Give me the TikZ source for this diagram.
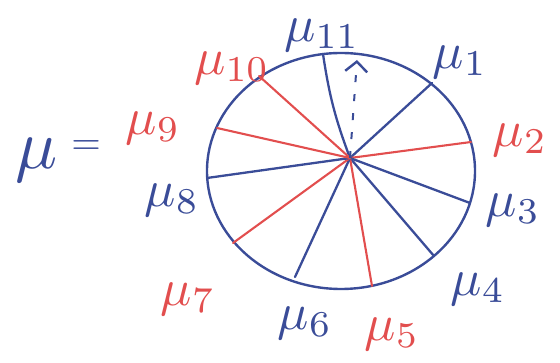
\documentclass[tikz,border=0pt]{standalone}
\usepackage{graphicx}
\usetikzlibrary{arrows.meta,shapes.geometric}
\definecolor{pblue}{RGB}{58,76,152}
\definecolor{pred}{RGB}{226,78,78}
\newcommand{\mylbl}[2][5.2]{\scalebox{#1}{$#2$}}
\tikzset{
  spokeb/.style={draw=pblue, line width=2.3pt, line cap=round},
  spoker/.style={draw=pred, line width=2.1pt, line cap=round},
  lab/.style={inner sep=0pt},
  labb/.style={lab, text=pblue},
  labr/.style={lab, text=pred},
}
\begin{document}
\begin{tikzpicture}[x=1pt,y=-1pt]
\useasboundingbox (0,0) rectangle (560,363);
% circle
\node[draw=pblue, line width=2.4pt, ellipse, minimum width=268pt, minimum height=236pt, inner sep=0pt] (circ) at (341,171) {};
\coordinate (c) at (350,158);
\coordinate (e11) at (323,54);
\coordinate (e1) at (432,83);
\coordinate (e2) at (471,142);
\coordinate (e3) at (470,203);
\coordinate (e4) at (434,256);
\coordinate (e5) at (372,286);
\coordinate (e6) at (295,277);
\coordinate (e7) at (233,243);
\coordinate (e8) at (207,178);
\coordinate (e9) at (217,128);
\coordinate (e10) at (259,76);
\coordinate (atop) at (357,60);
% spokes
\draw[spokeb] (c) to[bend left=6] (e11);
\draw[spokeb] (c) -- (e1);
\draw[spoker] (c) -- (e2);
\draw[spokeb] (c) -- (e3);
\draw[spokeb] (c) -- (e4);
\draw[spoker] (c) -- (e5);
\draw[spokeb] (c) -- (e6);
\draw[spoker] (c) -- (e7);
\draw[spokeb] (c) -- (e8);
\draw[spoker] (c) -- (e9);
\draw[spoker] (c) -- (e10);
% dashed arrow
\draw[draw=pblue, line width=2pt, dash pattern=on 7pt off 12pt, -{Straight Barb[length=10pt,width=22pt,line width=2.4pt]}] (c) -- (atop);
% labels
\node[labb] (m) at (58,160) {\scalebox{7}{$\mu$}\hspace{14pt}\raisebox{14pt}{\scalebox{3.8}{$=$}}};
\node[labb] (l11) at (322,35) {\mylbl{\mu_{11}}};
\node[labb] (l1) at (460,62) {\mylbl{\mu_{1}}};
\node[labr] (l2) at (520,140) {\mylbl{\mu_{2}}};
\node[labb] (l3) at (513,210) {\mylbl{\mu_{3}}};
\node[labb] (l4) at (478,289) {\mylbl{\mu_{4}}};
\node[labr] (l5) at (392,334) {\mylbl{\mu_{5}}};
\node[labb] (l6) at (305,323) {\mylbl{\mu_{6}}};
\node[labr] (l7) at (188,299) {\mylbl{\mu_{7}}};
\node[labb] (l8) at (172,200) {\mylbl{\mu_{8}}};
\node[labr] (l9) at (153,128) {\mylbl{\mu_{9}}};
\node[labr] (l10) at (232,68) {\mylbl{\mu_{10}}};
\end{tikzpicture}
\end{document}
